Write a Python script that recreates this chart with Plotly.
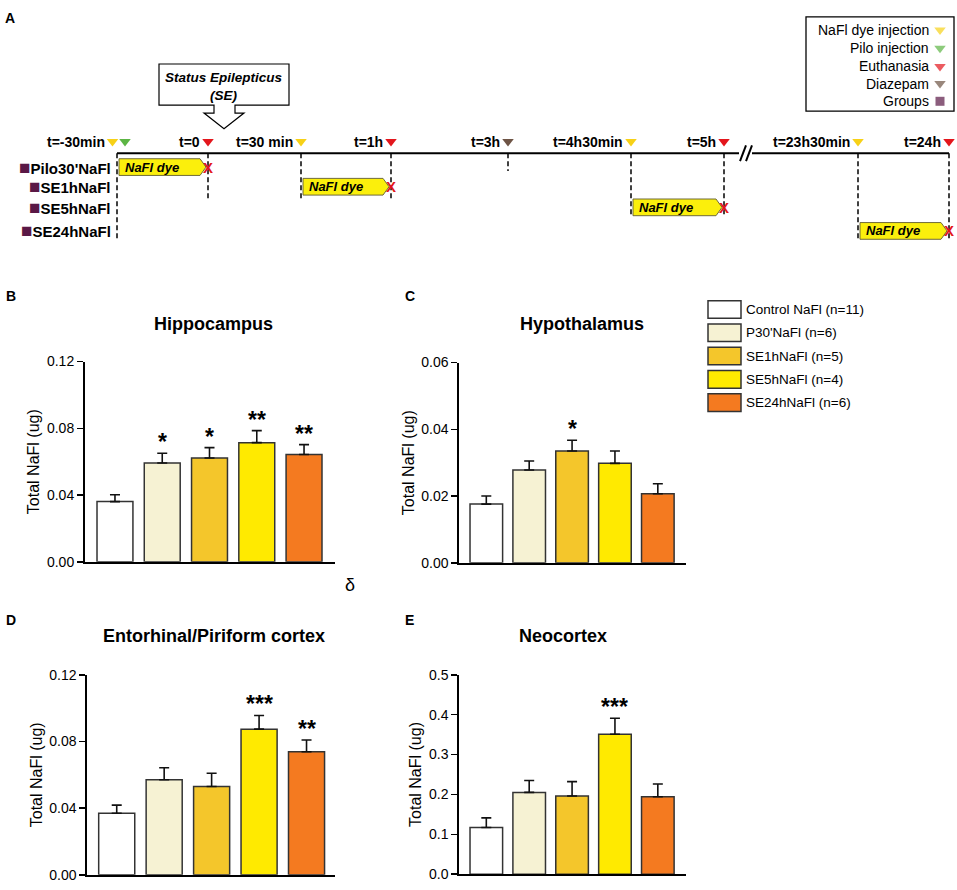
import plotly.graph_objects as go

W, H = 957, 890
FONT = "Liberation Sans, Arial, sans-serif"

# ---------------- data ----------------
groups = ["Control NaFl (n=11)", "P30'NaFl (n=6)", "SE1hNaFl (n=5)", "SE5hNaFl (n=4)", "SE24hNaFl (n=6)"]
colors = ["#FFFFFF", "#F6F2D3", "#F4C62B", "#FFEA00", "#F47A20"]
bar_x = [0, 1, 2, 3, 4]

hippo_mean = [0.0361, 0.0592, 0.0622, 0.0714, 0.0643]
hippo_sem = [0.0041, 0.0059, 0.0062, 0.0072, 0.0059]
hippo_sig = ["", "*", "*", "**", "**"]

hypo_mean = [0.0176, 0.0278, 0.0335, 0.0298, 0.0207]
hypo_sem = [0.0024, 0.0027, 0.0032, 0.0037, 0.0030]
hypo_sig = ["", "", "*", "", ""]

ento_mean = [0.0369, 0.0570, 0.0530, 0.0874, 0.0738]
ento_sem = [0.0049, 0.0072, 0.0079, 0.0082, 0.0071]
ento_sig = ["", "", "", "***", "**"]

neo_mean = [0.117, 0.205, 0.196, 0.351, 0.194]
neo_sem = [0.024, 0.030, 0.036, 0.040, 0.032]
neo_sig = ["", "", "", "***", ""]

# timeline (schematic, panel A)
event_labels = ["t=-30min", "t=0", "t=30 min", "t=1h", "t=3h", "t=4h30min", "t=5h", "t=23h30min", "t=24h"]
event_pos = [117, 208, 301, 391, 508, 631, 724, 858, 949]
event_kinds = [["dye", "pilo"], ["euth"], ["dye"], ["euth"], ["diaz"], ["dye"], ["euth"], ["dye"], ["euth"]]
event_dash_end = [237, 195, 195, 195, 166, 213, 213, 237, 237]

tl_groups = ["Pilo30'NaFl", "SE1hNaFl", "SE5hNaFl", "SE24hNaFl"]
tl_row_y = [162, 182, 203, 227]
dye_start_event = [0, 2, 5, 7]
dye_end_event = [1, 3, 6, 8]

key_labels = ["NaFl dye injection", "Pilo injection", "Euthanasia", "Diazepam", "Groups"]
key_kinds = ["dye", "pilo", "euth", "diaz", "group"]
kind_color = {"dye": "#F7D117", "pilo": "#5CB544", "euth": "#E3161C", "diaz": "#6E5445", "group": "#5A1846"}


def px(x):
    return x / W


def py(y):
    return 1 - y / H


panels = [
    dict(title="Hippocampus", mean=hippo_mean, sem=hippo_sem, sig=hippo_sig, ymax=0.12, dtick=0.04, fmt=".2f",
         letter="B", xd=(85, 335), yd=(360, 564), xr=(-0.634, 4.655), tx=213, ty=322, lx=4, ly=293),
    dict(title="Hypothalamus", mean=hypo_mean, sem=hypo_sem, sig=hypo_sig, ymax=0.06, dtick=0.02, fmt=".2f",
         letter="C", xd=(459.3, 685.7), yd=(361, 565), xr=(-0.63, 4.65), tx=582, ty=322, lx=403, ly=293),
    dict(title="Entorhinal/Piriform cortex", mean=ento_mean, sem=ento_sem, sig=ento_sig, ymax=0.12, dtick=0.04,
         fmt=".2f", letter="D", xd=(87.3, 335), yd=(679, 882.7), xr=(-0.62, 4.6), tx=214, ty=640, lx=4, ly=623),
    dict(title="Neocortex", mean=neo_mean, sem=neo_sem, sig=neo_sig, ymax=0.5, dtick=0.1, fmt=".1f",
         letter="E", xd=(459.3, 685.7), yd=(679, 882), xr=(-0.63, 4.65), tx=563, ty=640, lx=403, ly=623),
]

fig = go.Figure()
annotations = []
shapes = []
layout_axes = {}

for i, p in enumerate(panels):
    n = "" if i == 0 else str(i + 1)
    xa, ya = "x" + n, "y" + n
    fig.add_trace(go.Bar(
        x=bar_x, y=p["mean"], width=0.76, xaxis=xa, yaxis=ya,
        marker=dict(color=colors, line=dict(color="#333333", width=1.5)),
        error_y=dict(type="data", symmetric=False, array=p["sem"], arrayminus=[0] * 5,
                     color="#111111", thickness=1.6, width=5),
        showlegend=False, hoverinfo="skip",
    ))
    layout_axes["xaxis" + n] = dict(
        domain=[px(p["xd"][0]), px(p["xd"][1])], range=list(p["xr"]), anchor=ya,
        showline=True, linecolor="black", linewidth=2, ticks="", showticklabels=False,
        showgrid=False, zeroline=False, fixedrange=True,
    )
    layout_axes["yaxis" + n] = dict(
        domain=[py(p["yd"][1]), py(p["yd"][0])], range=[0, p["ymax"]], anchor=xa,
        dtick=p["dtick"], tick0=0, tickformat=p["fmt"], ticks="outside", ticklen=6, tickwidth=1.5,
        tickcolor="black", showline=True, linecolor="black", linewidth=2,
        showgrid=False, zeroline=False, fixedrange=True,
        tickfont=dict(size=14, color="black"),
        title=dict(text="Total NaFl (ug)", font=dict(size=16, color="black"), standoff=3),
    )
    for j, s in enumerate(p["sig"]):
        if s:
            annotations.append(dict(
                x=bar_x[j], y=p["mean"][j] + p["sem"][j], xref=xa, yref=ya, text=s, showarrow=False,
                yanchor="bottom", yshift=-4, font=dict(size=23, color="black", weight="bold"),
            ))
    annotations.append(dict(x=px(p["tx"]), y=py(p["ty"]), xref="paper", yref="paper", text=p["title"],
                            showarrow=False, xanchor="center", yanchor="middle",
                            font=dict(size=18, color="black", weight="bold")))
    annotations.append(dict(x=px(p["lx"]), y=py(p["ly"]), xref="paper", yref="paper", text=p["letter"],
                            showarrow=False, xanchor="left", yanchor="middle",
                            font=dict(size=14, color="black", weight="bold")))

annotations.append(dict(x=px(350), y=py(588), xref="paper", yref="paper", text="δ", showarrow=False,
                        font=dict(size=18, color="black")))

# bar legend (manual boxes)
for k, (g, c) in enumerate(zip(groups, colors)):
    y0 = 298 + k * 23.7
    shapes.append(dict(type="rect", xref="paper", yref="paper", x0=px(708), x1=px(741),
                       y0=py(y0 + 18), y1=py(y0), fillcolor=c, line=dict(color="#333333", width=1.5)))
    annotations.append(dict(x=px(744), y=py(y0 + 9), xref="paper", yref="paper", text=g, showarrow=False,
                            xanchor="left", yanchor="middle", font=dict(size=13.5, color="black")))

# ---------------- panel A (schematic timeline) ----------------
layout_axes["xaxis5"] = dict(domain=[0, 1], range=[0, W], visible=False, fixedrange=True, anchor="y5")
layout_axes["yaxis5"] = dict(domain=[py(250), 1], range=[250, 0], visible=False, fixedrange=True, anchor="x5")

annotations.append(dict(x=px(3), y=py(10.5), xref="paper", yref="paper", text="A", showarrow=False,
                        xanchor="left", yanchor="middle", font=dict(size=14, color="black", weight="bold")))

LINE_Y = 148
TRI_Y = 136
break_x = 746
shapes.append(dict(type="line", xref="x5", yref="y5", x0=event_pos[0], x1=break_x - 7, y0=LINE_Y, y1=LINE_Y,
                   line=dict(color="black", width=2)))
shapes.append(dict(type="line", xref="x5", yref="y5", x0=break_x + 6, x1=event_pos[-1], y0=LINE_Y, y1=LINE_Y,
                   line=dict(color="black", width=2)))
for dx in (-3, 3):
    shapes.append(dict(type="line", xref="x5", yref="y5", x0=break_x + dx - 3, x1=break_x + dx + 3,
                       y0=LINE_Y + 8, y1=LINE_Y - 8, line=dict(color="black", width=2)))

tri_x, tri_c = [], []
for lab, pos, kinds, dend in zip(event_labels, event_pos, event_kinds, event_dash_end):
    shapes.append(dict(type="line", xref="x5", yref="y5", x0=pos, x1=pos, y0=LINE_Y, y1=dend,
                       line=dict(color="black", width=1.5, dash="5px,3px")))
    if len(kinds) == 2:
        xs = [pos - 4.5, pos + 8]
    else:
        xs = [pos]
    for xx, kd in zip(xs, kinds):
        tri_x.append(xx)
        tri_c.append(kind_color[kd])
    annotations.append(dict(x=xs[0] - 6, y=TRI_Y, xref="x5", yref="y5", text=lab, showarrow=False,
                            xanchor="right", yanchor="middle", font=dict(size=14, color="black", weight="bold")))

fig.add_trace(go.Scatter(x=tri_x, y=[TRI_Y] * len(tri_x), xaxis="x5", yaxis="y5", mode="markers",
                         marker=dict(symbol="triangle-down", size=10, color=tri_c, line=dict(width=0)),
                         showlegend=False, hoverinfo="skip", cliponaxis=False))

# groups rows + dye arrows
for g, ry, si, ei in zip(tl_groups, tl_row_y, dye_start_event, dye_end_event):
    s, e = event_pos[si], event_pos[ei]
    top, bot = ry - 8.5, ry + 8.5
    path = f"M{s + 2},{top} L{e - 8},{top} L{e - 2},{ry} L{e - 8},{bot} L{s + 2},{bot} Z"
    shapes.append(dict(type="path", xref="x5", yref="y5", path=path, fillcolor="#FBEF0C",
                       line=dict(color="#6F6A3A", width=1)))
    annotations.append(dict(x=s + 6, y=ry, xref="x5", yref="y5", text="NaFl dye", showarrow=False,
                            xanchor="left", yanchor="middle",
                            font=dict(size=13, color="black", weight="bold", style="italic")))
    annotations.append(dict(x=e, y=ry, xref="x5", yref="y5", text="X", showarrow=False,
                            xanchor="center", yanchor="middle",
                            font=dict(size=15, color="#E3161C", weight="bold")))
    annotations.append(dict(x=113, y=ry, xref="x5", yref="y5",
                            text=f"<span style='color:{kind_color['group']};font-size:19px'>■</span>{g}",
                            showarrow=False, xanchor="right", yanchor="middle",
                            font=dict(size=15, color="black", weight="bold")))

# Status Epilepticus callout
callout = ("M159,57 L289,57 L289,99 L235,99 L235,107 L244,107 L224,123 L204,107 "
           "L214,107 L214,99 L159,99 Z")
shapes.append(dict(type="path", xref="x5", yref="y5", path=callout, fillcolor="white",
                   line=dict(color="black", width=1.2)))
annotations.append(dict(x=224, y=71, xref="x5", yref="y5", text="Status Epilepticus", showarrow=False,
                        font=dict(size=13.5, color="black", weight="bold", style="italic")))
annotations.append(dict(x=224, y=89, xref="x5", yref="y5", text="(SE)", showarrow=False,
                        font=dict(size=13.5, color="black", weight="bold", style="italic")))

# key box
shapes.append(dict(type="rect", xref="x5", yref="y5", x0=806, x1=954, y0=9, y1=105,
                   line=dict(color="black", width=1.3), fillcolor="rgba(0,0,0,0)"))
key_y = [22.5, 41, 59.5, 77, 95]
key_sym = []
for lab, kd, ky in zip(key_labels, key_kinds, key_y):
    annotations.append(dict(x=931, y=ky, xref="x5", yref="y5", text=lab, showarrow=False,
                            xanchor="right", yanchor="middle", font=dict(size=14, color="black")))
    key_sym.append("square" if kd == "group" else "triangle-down")
fig.add_trace(go.Scatter(x=[940] * len(key_y), y=key_y, xaxis="x5", yaxis="y5", mode="markers",
                         marker=dict(symbol=key_sym, size=[9 if s == "square" else 10 for s in key_sym],
                                     color=[kind_color[k] for k in key_kinds], line=dict(width=0)),
                         showlegend=False, hoverinfo="skip", cliponaxis=False))

fig.update_layout(
    width=W, height=H, autosize=False,
    margin=dict(l=0, r=0, t=0, b=0),
    paper_bgcolor="white", plot_bgcolor="white",
    font=dict(family=FONT, color="black"),
    showlegend=False,
    annotations=annotations, shapes=shapes,
    **layout_axes,
)

fig.write_html("out.html", config={"displayModeBar": False, "staticPlot": True},
               post_script="document.body.style.margin='0px';document.body.style.overflow='hidden';")
